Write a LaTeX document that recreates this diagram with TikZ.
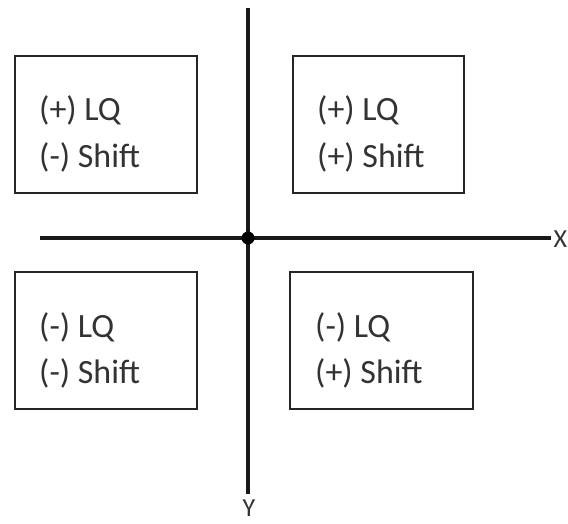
\documentclass[tikz,border=0pt]{standalone}
\usepackage{fontspec}
\setmainfont{Carlito}
\begin{document}
\begin{tikzpicture}[x=1pt,y=-1pt,
  quad/.style={draw=black!85,line width=2pt,inner sep=0pt,minimum height=137pt},
  lbl/.style={anchor=base west,inner sep=0pt,text=black!80,font=\fontsize{34}{40}\selectfont},
  axis/.style={draw=black!90,line width=3.5pt},
  axlbl/.style={inner sep=0pt,text=black!80,font=\fontsize{26}{32}\selectfont}]
\useasboundingbox (0,0) rectangle (568,523);
% quadrant boxes
\node[quad,minimum width=182pt] (tl) at (106,124.5) {};
\node[quad,minimum width=171pt] (tr) at (378.5,124.5) {};
\node[quad,minimum width=182pt] (bl) at (106,340.5) {};
\node[quad,minimum width=183pt] (br) at (381.5,340.5) {};
% texts
\node[lbl] (tl1) at (39,120) {(+) LQ};
\node[lbl] (tl2) at (39,167) {(-) Shift};
\node[lbl] (tr1) at (317,120) {(+) LQ};
\node[lbl] (tr2) at (317,167) {(+) Shift};
\node[lbl] (bl1) at (39,337) {(-) LQ};
\node[lbl] (bl2) at (39,383) {(-) Shift};
\node[lbl] (br1) at (315,337) {(-) LQ};
\node[lbl] (br2) at (315,383) {(+) Shift};
% axes
\coordinate (ytop) at (248,8);
\coordinate (ybot) at (248,494);
\coordinate (xleft) at (40,238);
\coordinate (xright) at (551,238);
\draw[axis] (ytop) -- (ybot);
\draw[axis] (xleft) -- (xright);
\node[circle,fill=black,inner sep=0pt,minimum size=13pt] (o) at (248,238) {};
\node[axlbl,anchor=west] (xl) at (553.5,239) {X};
\node[axlbl,anchor=north] (yl) at (249,500) {Y};
\end{tikzpicture}
\end{document}
